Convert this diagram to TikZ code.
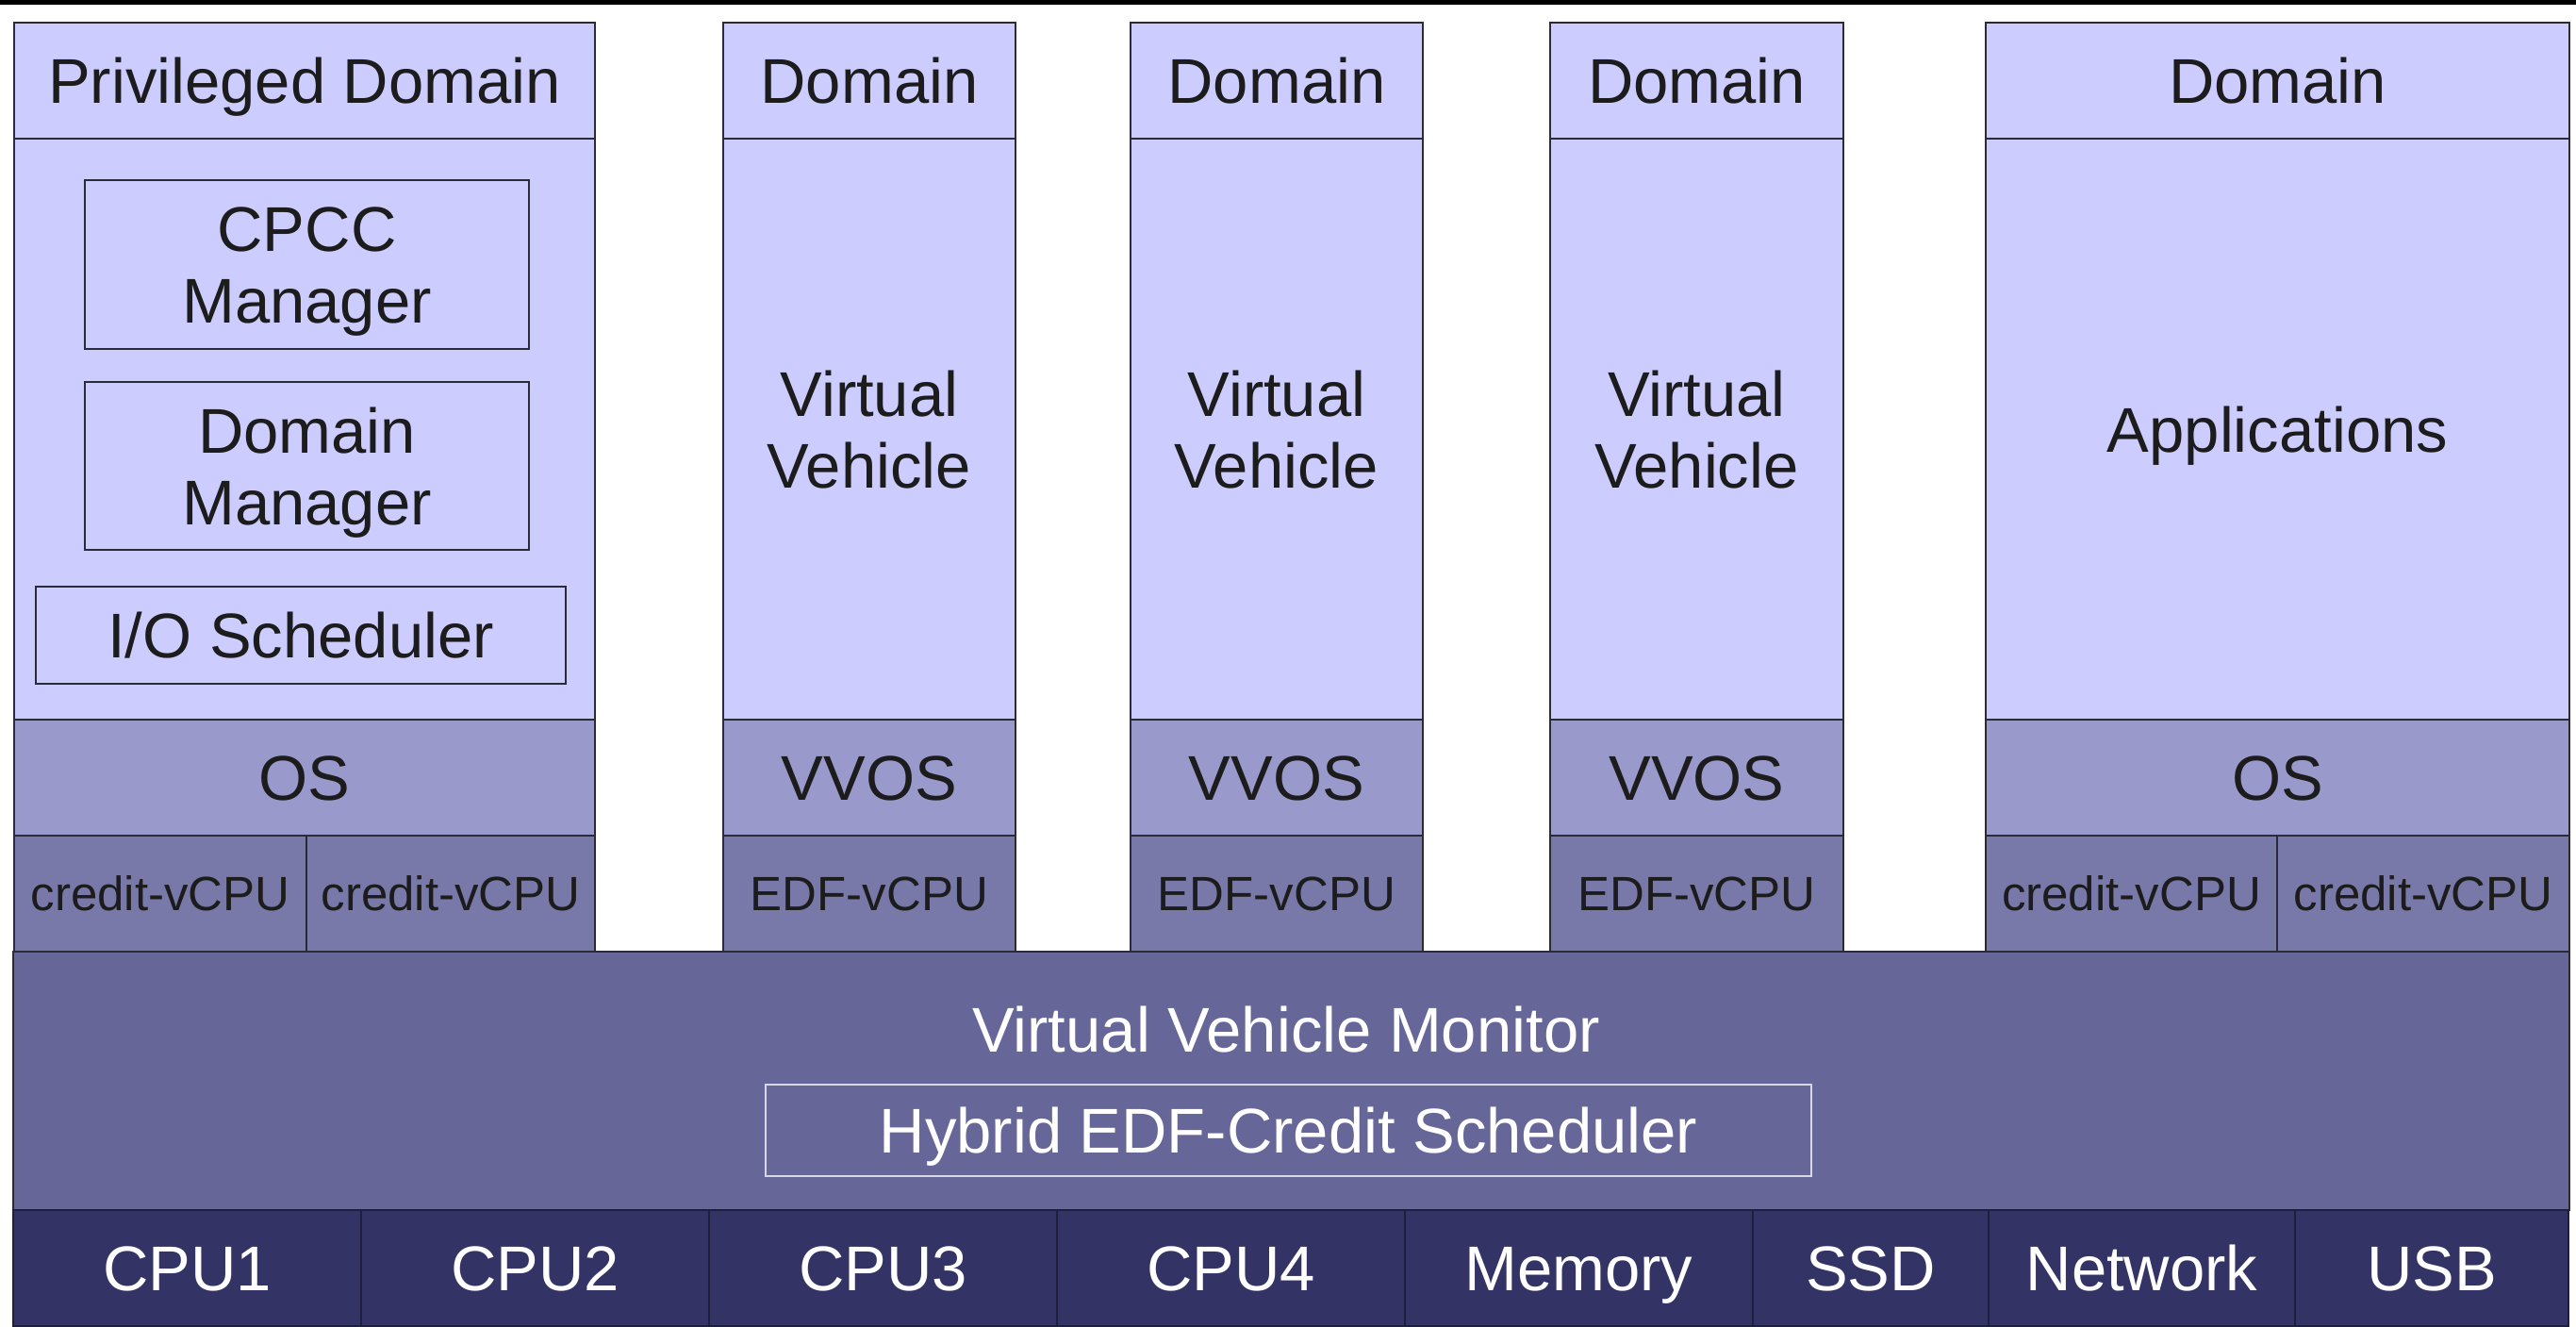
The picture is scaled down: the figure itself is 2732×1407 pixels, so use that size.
\documentclass[tikz,border=0pt]{standalone}
\usepackage{fontspec}
\setmainfont{Liberation Sans}
\definecolor{lav}{HTML}{CCCCFF}
\definecolor{osc}{HTML}{9999CC}
\definecolor{vcpuc}{HTML}{7878A9}
\definecolor{vvmc}{HTML}{666699}
\definecolor{hwc}{HTML}{333366}
\definecolor{linec}{HTML}{2A2A38}
\definecolor{txt}{HTML}{1C1C1C}
\definecolor{hybline}{HTML}{D8D8E4}
\tikzset{
  cell/.style={draw=linec, line width=2pt, inner sep=0pt, outer sep=0pt, anchor=north west,
    align=center, text=txt, font=\fontsize{67}{76}\selectfont, text height=48pt, text depth=0pt},
  twoline/.style={text height=124pt, text depth=0pt},
  hdr/.style={cell, fill=lav, minimum height=123pt},
  body/.style={cell, fill=lav, minimum height=616pt},
  inner/.style={cell, fill=lav},
  osband/.style={cell, fill=osc, minimum height=123pt},
  vcpu/.style={cell, fill=vcpuc, minimum height=123pt, font=\fontsize{51}{58}\selectfont, text height=36.5pt},
  hw/.style={cell, fill=hwc, draw=hwc!60!black, minimum height=123pt, text=white},
}
\begin{document}
\begin{tikzpicture}[x=1pt, y=-1pt]
\useasboundingbox (0,0) rectangle (2732,1407);
\fill[black] (0,0) rectangle (2732,5);
% headers
\node[hdr, minimum width=616pt] (ph) at (15,24) {Privileged Domain};
\node[hdr, minimum width=310pt] (d2h) at (767,24) {Domain};
\node[hdr, minimum width=310pt] (d3h) at (1199,24) {Domain};
\node[hdr, minimum width=311pt] (d4h) at (1644,24) {Domain};
\node[hdr, minimum width=619pt] (d5h) at (2106,24) {Domain};
% bodies
\node[body, minimum width=616pt] (pb) at (15,147) {};
\node[body, twoline, minimum width=310pt] (d2b) at (767,147) {Virtual\\Vehicle};
\node[body, twoline, minimum width=310pt] (d3b) at (1199,147) {Virtual\\Vehicle};
\node[body, twoline, minimum width=311pt] (d4b) at (1644,147) {Virtual\\Vehicle};
\node[body, minimum width=619pt] (d5b) at (2106,147) {Applications};
% inner boxes of privileged domain
\node[inner, twoline, minimum width=471pt, minimum height=179pt] (cpcc) at (90,191) {CPCC\\Manager};
\node[inner, twoline, minimum width=471pt, minimum height=178pt] (dmgr) at (90,405) {Domain\\Manager};
\node[inner, minimum width=562pt, minimum height=103pt] (iosch) at (38,622) {I/O Scheduler};
% OS band
\node[osband, minimum width=616pt] (os1) at (15,763) {OS};
\node[osband, minimum width=310pt] (os2) at (767,763) {VVOS};
\node[osband, minimum width=310pt] (os3) at (1199,763) {VVOS};
\node[osband, minimum width=311pt] (os4) at (1644,763) {VVOS};
\node[osband, minimum width=619pt] (os5) at (2106,763) {OS};
% vCPU band
\node[vcpu, minimum width=310pt] (c1a) at (15,886) {credit-vCPU};
\node[vcpu, minimum width=306pt] (c1b) at (325,886) {credit-vCPU};
\node[vcpu, minimum width=310pt] (e2) at (767,886) {EDF-vCPU};
\node[vcpu, minimum width=310pt] (e3) at (1199,886) {EDF-vCPU};
\node[vcpu, minimum width=311pt] (e4) at (1644,886) {EDF-vCPU};
\node[vcpu, minimum width=309pt] (c5a) at (2106,886) {credit-vCPU};
\node[vcpu, minimum width=310pt] (c5b) at (2415,886) {credit-vCPU};
% VVM
\node[cell, fill=vvmc, minimum width=2711pt, minimum height=274pt] (vvm) at (14,1009) {};
\node[inner sep=0pt, text=white, font=\fontsize{67}{76}\selectfont, text height=48pt, text depth=0pt] (vvmt) at (1364,1091) {Virtual Vehicle Monitor};
\node[cell, draw=hybline, fill=vvmc, text=white, minimum width=1109pt, minimum height=97pt] (hyb) at (812,1150) {Hybrid EDF-Credit Scheduler};
% hardware
\node[hw, minimum width=369pt] (cpu1) at (14,1283) {CPU1};
\node[hw, minimum width=369pt] (cpu2) at (383,1283) {CPU2};
\node[hw, minimum width=369pt] (cpu3) at (752,1283) {CPU3};
\node[hw, minimum width=369pt] (cpu4) at (1121,1283) {CPU4};
\node[hw, minimum width=369pt] (mem) at (1490,1283) {Memory};
\node[hw, minimum width=250pt] (ssd) at (1859,1283) {SSD};
\node[hw, minimum width=325pt] (net) at (2109,1283) {Network};
\node[hw, minimum width=290pt] (usb) at (2434,1283) {USB};
\end{tikzpicture}
\end{document}
